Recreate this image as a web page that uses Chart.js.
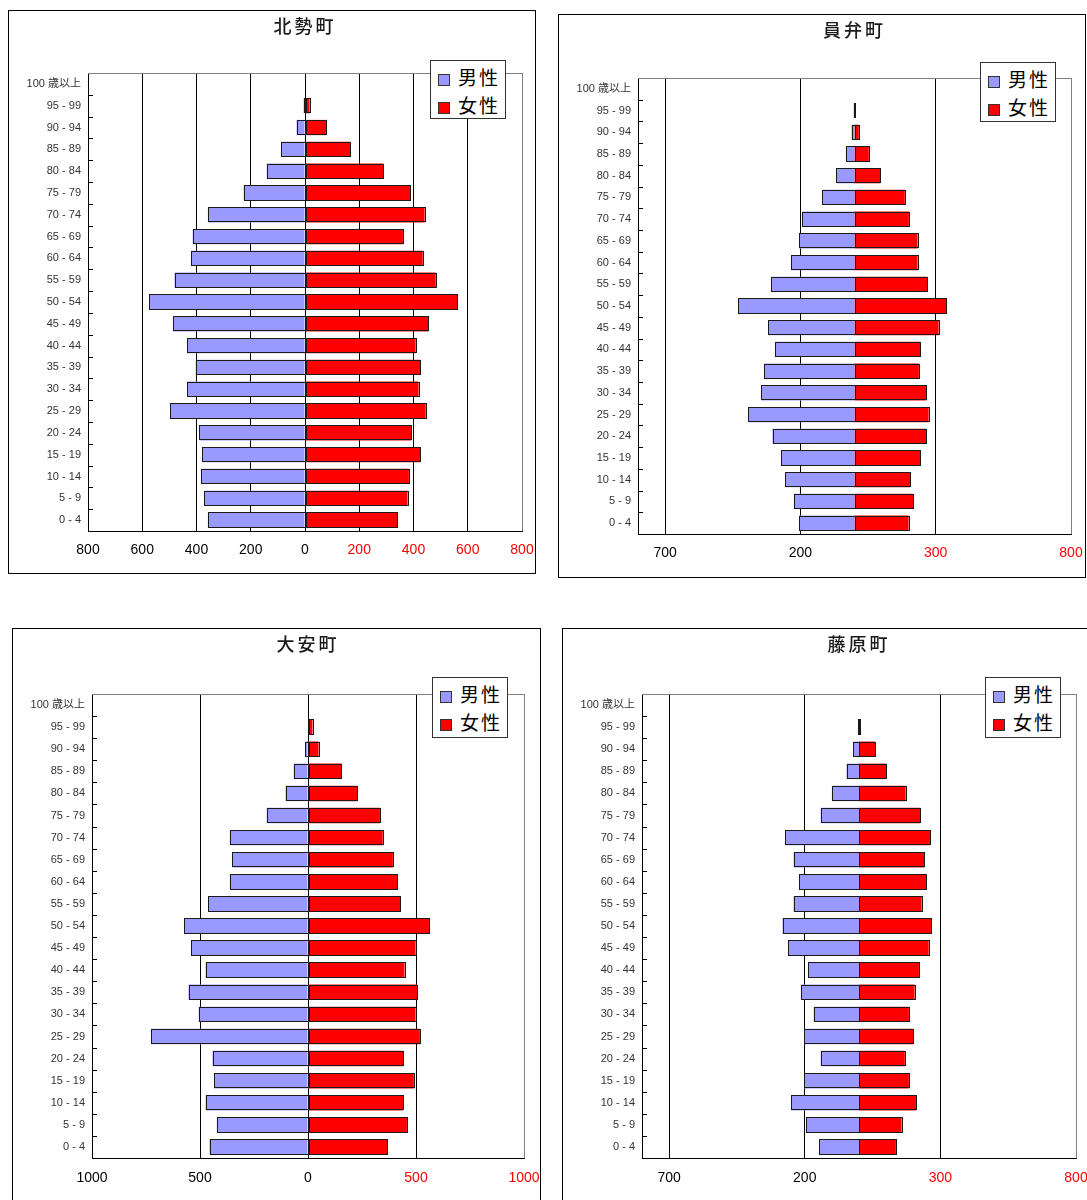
<!DOCTYPE html>
<html lang="ja">
<head>
<meta charset="utf-8">
<title>人口ピラミッド</title>
<script src="https://cdn.jsdelivr.net/npm/chart.js@4.4.1/dist/chart.umd.min.js"></script>
<style>
  html, body { margin: 0; padding: 0; background: #fff; width: 1087px; height: 1200px; overflow: hidden; }
  .frame { position: absolute; border: 1px solid #000; box-sizing: border-box; background: #fff; }
  canvas.pyr { position: absolute; }
  .ttl { position: absolute; text-align: center; font: 500 18px/18px 'Noto Sans CJK JP', sans-serif; letter-spacing: 3px; color: #1a1a1a; }
  .lgd { position: absolute; border: 1px solid #333; background: #fff; box-sizing: border-box; padding-top: 2px; }
  .lgd .it { height: 28px; font: 19px/28px 'Noto Sans CJK JP', sans-serif; letter-spacing: 2px; color: #000; white-space: nowrap; }
  .lgd .sw { display: inline-block; width: 12px; height: 12px; border: 1px solid #333; box-sizing: border-box; margin: 0 8px 0 7px; vertical-align: -1px; }
</style>
</head>
<body>
<script>
// 年齢階級（上から下へ）
const ageGroups = ['100 歳以上','95 - 99','90 - 94','85 - 89','80 - 84','75 - 79','70 - 74','65 - 69','60 - 64','55 - 59','50 - 54','45 - 49','40 - 44','35 - 39','30 - 34','25 - 29','20 - 24','15 - 19','10 - 14','5 - 9','0 - 4'];
const seriesNames = ['男性', '女性'];

// 北勢町
const hokuseiMale   = [0, 5, 31, 88, 141, 226, 358, 414, 420, 481, 575, 487, 435, 403, 435, 497, 389, 378, 383, 372, 358];
const hokuseiFemale = [0, 17, 79, 166, 289, 388, 441, 361, 434, 482, 561, 455, 408, 424, 419, 445, 392, 424, 383, 378, 340];
const hokuseiTicks  = [-800, -600, -400, -200, 0, 200, 400, 600, 800];

// 員弁町
const inabeMale   = [0, 3, 11, 32, 67, 120, 193, 205, 234, 308, 429, 319, 292, 334, 344, 392, 303, 271, 255, 224, 205];
const inabeFemale = [0, 1, 16, 53, 96, 186, 201, 233, 233, 269, 339, 311, 243, 238, 265, 274, 265, 243, 206, 217, 200];
const inabeTicks  = [-700, -200, 300, 800];

// 大安町
const daianMale   = [0, 2, 13, 66, 104, 191, 362, 350, 362, 461, 574, 540, 474, 553, 506, 727, 442, 434, 474, 422, 456];
const daianFemale = [0, 21, 49, 154, 227, 333, 346, 393, 413, 426, 560, 498, 447, 505, 498, 518, 440, 490, 440, 458, 367];
const daianTicks  = [-1000, -500, 0, 500, 1000];

// 藤原町
const fujiwaraMale   = [0, 4, 22, 46, 100, 141, 272, 241, 221, 241, 282, 261, 187, 214, 167, 202, 141, 202, 250, 194, 147];
const fujiwaraFemale = [0, 5, 59, 100, 172, 226, 262, 241, 247, 231, 267, 257, 221, 205, 184, 200, 169, 184, 210, 157, 136];
const fujiwaraTicks  = [-700, -200, 300, 800];

const maleColor = '#9999FF';
const femaleColor = '#FF0000';

// 各グラフの枠・描画領域・凡例の位置（ページ座標）
const panels = [
  { title: '北勢町', male: hokuseiMale, female: hokuseiFemale, ticks: hokuseiTicks, min: -800, max: 800,
    frame: [8, 10, 528, 564], plot: [88, 73, 522, 531], legend: [430, 60, 76, 59], labelGap: 11 },
  { title: '員弁町', male: inabeMale, female: inabeFemale, ticks: inabeTicks, min: -800, max: 800,
    frame: [558, 14, 528, 564], plot: [638, 78, 1071, 534], legend: [980, 62, 76, 60], labelGap: 11 },
  { title: '大安町', male: daianMale, female: daianFemale, ticks: daianTicks, min: -1000, max: 1000,
    frame: [12, 628, 529, 590], plot: [92, 694, 524, 1158], legend: [432, 677, 76, 61], labelGap: 12 },
  { title: '藤原町', male: fujiwaraMale, female: fujiwaraFemale, ticks: fujiwaraTicks, min: -800, max: 800,
    frame: [562, 628, 540, 590], plot: [642, 694, 1076, 1158], legend: [985, 677, 76, 61], labelGap: 12 }
];

// 描画領域の上辺（灰色）と、年齢階級の区切りに内向きの目盛を描く
const frameAndTicks = {
  id: 'frameAndTicks',
  beforeDatasetsDraw(chart) {
    const { ctx, chartArea: a, scales: { y } } = chart;
    ctx.save();
    ctx.lineWidth = 1;
    ctx.strokeStyle = '#808080';
    ctx.beginPath();
    ctx.moveTo(a.left, Math.round(a.top) + 0.5);
    ctx.lineTo(a.right, Math.round(a.top) + 0.5);
    ctx.stroke();
    ctx.strokeStyle = '#000';
    ctx.beginPath();
    for (let i = 0; i < y.ticks.length - 1; i++) {
      const yy = Math.round((y.getPixelForTick(i) + y.getPixelForTick(i + 1)) / 2) + 0.5;
      ctx.moveTo(a.left, yy);
      ctx.lineTo(a.left + 5, yy);
    }
    ctx.stroke();
    ctx.restore();
  }
};

// 棒の輪郭線を棒の外周に沿って描く（値の小さい棒も線として見える）
const barOutline = {
  id: 'barOutline',
  afterDatasetsDraw(chart) {
    const { ctx } = chart;
    ctx.save();
    ctx.lineWidth = 1;
    ctx.strokeStyle = '#1a1a1a';
    chart.data.datasets.forEach((ds, di) => {
      const meta = chart.getDatasetMeta(di);
      meta.data.forEach((bar, i) => {
        if (!ds.data[i]) return;
        const { x, y, base, height } = bar.getProps(['x', 'y', 'base', 'height'], true);
        const l = Math.round(Math.min(x, base)) + 0.5;
        const r = Math.round(Math.max(x, base)) + 0.5;
        const t = Math.round(y - height / 2) + 0.5;
        const b = Math.round(y + height / 2) - 0.5;
        ctx.strokeRect(l, t, Math.max(r - l, 0), b - t);
      });
    });
    ctx.restore();
  }
};

panels.forEach((p) => {
  const [fx, fy, fw, fh] = p.frame;
  const frame = document.createElement('div');
  frame.className = 'frame';
  Object.assign(frame.style, { left: fx + 'px', top: fy + 'px', width: fw + 'px', height: fh + 'px' });
  document.body.appendChild(frame);

  const cx = fx + 1, cy = fy + 1, cw = fw - 2, ch = fh - 2;
  const canvas = document.createElement('canvas');
  canvas.className = 'pyr';
  canvas.width = cw; canvas.height = ch;
  Object.assign(canvas.style, { left: cx + 'px', top: cy + 'px', width: cw + 'px', height: ch + 'px' });
  document.body.appendChild(canvas);

  const [pl, pt, pr, pb] = p.plot;
  const yWidth = pl - cx;
  const xHeight = (cy + ch) - pb;

  const chart = new Chart(canvas, {
    type: 'bar',
    data: {
      labels: ageGroups,
      datasets: [
        { label: seriesNames[0], data: p.male.map(v => -v), backgroundColor: maleColor },
        { label: seriesNames[1], data: p.female, backgroundColor: femaleColor }
      ]
    },
    plugins: [frameAndTicks, barOutline],
    options: {
      indexAxis: 'y',
      responsive: false,
      animation: false,
      devicePixelRatio: 1,
      layout: { padding: { left: 0, top: pt - cy, right: (cx + cw) - pr, bottom: 0 } },
      datasets: {
        bar: {
          categoryPercentage: 1,
          barPercentage: 0.7,
          borderWidth: 0
        }
      },
      plugins: { legend: { display: false }, title: { display: false }, tooltip: { enabled: false } },
      scales: {
        x: {
          type: 'linear',
          stacked: true,
          min: p.min,
          max: p.max,
          afterBuildTicks: (s) => { s.ticks = p.ticks.map(v => ({ value: v })); },
          afterFit: (s) => { s.height = xHeight; s.paddingLeft = 0; s.paddingRight = 0; },
          grid: {
            drawTicks: false,
            color: (c) => (c.tick && c.tick.value === p.max ? '#808080' : '#000'),
            lineWidth: 1
          },
          border: { display: true, color: '#000', width: 1 },
          ticks: {
            padding: p.labelGap,
            autoSkip: false,
            maxRotation: 0,
            font: { family: "'Liberation Sans', Arial, sans-serif", size: 14 },
            color: (c) => (c.tick && c.tick.value > 0 ? '#FF0000' : '#000'),
            callback: (v) => String(Math.abs(v))
          }
        },
        y: {
          type: 'category',
          stacked: true,
          afterFit: (s) => { s.width = yWidth; },
          grid: { display: true, drawOnChartArea: false, drawTicks: false },
          border: { display: true, color: '#000', width: 1 },
          ticks: {
            padding: 7,
            autoSkip: false,
            font: { family: "'Liberation Sans', 'Noto Sans CJK JP', sans-serif", size: 11 },
            color: '#333'
          }
        }
      }
    }
  });

  const title = document.createElement('div');
  title.className = 'ttl';
  title.textContent = p.title;
  Object.assign(title.style, { left: pl + 'px', width: (pr - pl) + 'px', top: (fy + 6) + 'px' });
  document.body.appendChild(title);

  const [lx, ly, lw, lh] = p.legend;
  const lg = document.createElement('div');
  lg.className = 'lgd';
  Object.assign(lg.style, { left: lx + 'px', top: ly + 'px', width: lw + 'px', height: lh + 'px' });
  chart.data.datasets.forEach((ds) => {
    const it = document.createElement('div');
    it.className = 'it';
    const sw = document.createElement('span');
    sw.className = 'sw';
    sw.style.background = ds.backgroundColor;
    it.appendChild(sw);
    it.appendChild(document.createTextNode(ds.label));
    lg.appendChild(it);
  });
  document.body.appendChild(lg);
});
</script>
</body>
</html>
